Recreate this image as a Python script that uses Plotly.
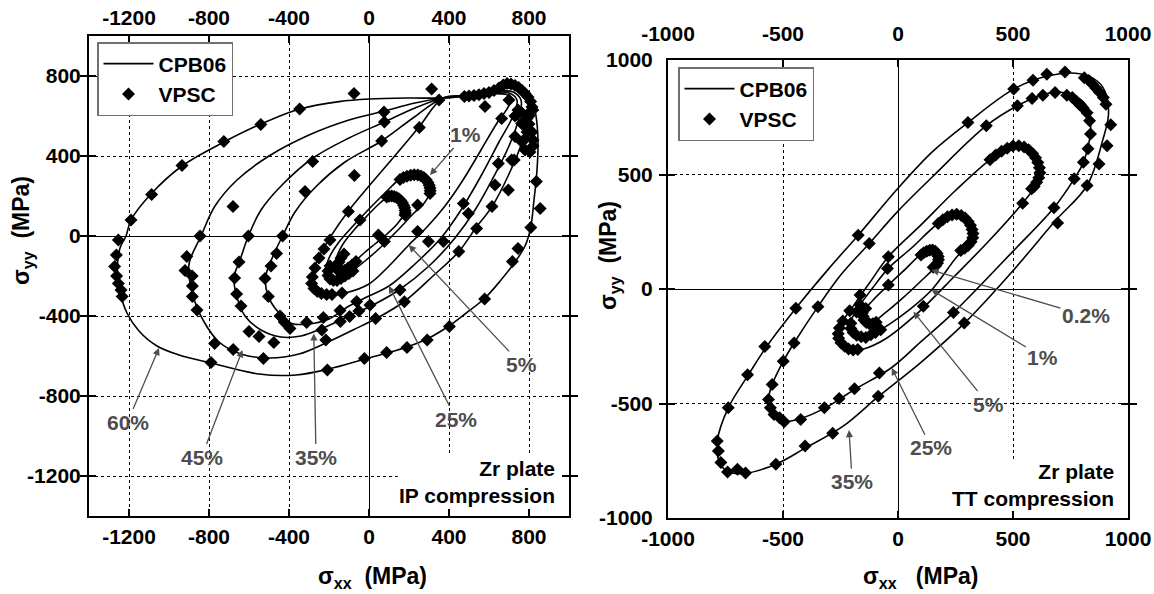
import plotly.graph_objects as go

# ---------------- axes ----------------
ip_ticks = [-1200, -800, -400, 0, 400, 800]
ip_range = [-1400, 1000]
tt_ticks = [-1000, -500, 0, 500, 1000]
tt_range = [-1000, 1000]

# ---------------- IP compression (left): CPB06 curves, (sxx, syy) MPa ----------------
ip_cpb_02 = [(182,125),(172,172),(140,196),(100,198),(55,165),(-10,100),(-75,30),(-130,-40),(-163,-110),
             (-168,-160),(-140,-180),(-95,-150),(-30,-90),(30,-40),(90,10),(145,65),(182,125)]
ip_cpb_1 = [(305,225),(292,275),(250,303),(200,302),(155,285),(80,215),(0,135),(-80,50),(-150,-30),(-200,-110),
            (-218,-180),(-195,-222),(-150,-220),(-90,-180),(-20,-125),(60,-55),(140,25),(220,110),(280,170),(305,225)]
ip_cpb_5 = [(370,690),(250,545),(120,390),(0,250),(-103,125),(-190,0),(-255,-115),(-290,-220),(-270,-275),
            (-215,-295),(-120,-285),(0,-240),(100,-150),(199,-45),(290,45),(380,150),(470,280),(560,430),
            (640,565),(700,655),(700,702),(620,712),(480,700),(370,690)]
ip_cpb_25 = [(370,690),(220,590),(63,475),(-120,370),(-262,250),(-370,120),(-432,0),(-480,-100),(-518,-210),
             (-503,-303),(-450,-385),(-387,-437),(-300,-440),(-200,-415),(-100,-350),(0,-300),(100,-250),
             (230,-140),(360,-10),(460,130),(560,300),(650,470),(720,600),(740,680),(700,715),(600,718),
             (480,702),(370,690)]
ip_cpb_35 = [(370,690),(230,640),(77,570),(-100,490),(-280,390),(-430,260),(-540,130),(-603,0),(-645,-120),
             (-675,-205),(-665,-287),(-620,-400),(-540,-470),(-440,-505),(-340,-500),(-230,-460),(-100,-400),
             (20,-345),(150,-270),(300,-150),(430,-10),(530,130),(620,290),(700,450),(750,590),(760,680),
             (720,720),(620,725),(490,705),(370,690)]
ip_cpb_45 = [(370,690),(230,665),(77,625),(-100,580),(-300,505),(-500,400),(-660,280),(-770,150),(-840,0),
             (-898,-130),(-900,-200),(-880,-300),(-830,-420),(-750,-530),(-640,-590),(-500,-610),(-350,-590),
             (-216,-535),(-80,-470),(50,-405),(180,-325),(320,-200),(449,-78),(532,38),(615,147),(700,310),
             (765,470),(795,610),(790,690),(745,730),(650,740),(530,715),(430,695),(370,690)]
ip_cpb_60 = [(370,690),(480,700),(580,725),(680,750),(760,735),(810,690),(835,600),(845,470),(840,330),
             (825,180),(808,40),(780,-50),(730,-130),(660,-220),(580,-310),(480,-390),(400,-450),(290,-515),
             (190,-555),(90,-585),(-20,-615),(-200,-665),(-365,-695),(-550,-690),(-790,-635),(-950,-595),
             (-1060,-550),(-1150,-475),(-1210,-385),(-1245,-280),(-1258,-170),(-1245,-60),(-1215,0),
             (-1190,80),(-1090,210),(-935,350),(-725,470),(-540,560),(-345,635),(-150,672),(0,685),
             (200,690),(370,690)]

# ---------------- IP compression (left): VPSC points ----------------
ip_vpsc_02 = [(88,195),(100,199),(113,200),(126,198),(138,193),(149,186),(159,177),(167,166),(173,154),
              (178,141),(181,128),(182,115),(180,105),(-150,-130),(-160,-145),(-165,-160),(-155,-172),
              (-140,-178),(-122,-172),(-105,-160),(-85,-145),(-65,-128),(-140,-110),(-125,-90),(47,5)]
ip_vpsc_1 = [(155,282),(172,292),(190,299),(208,304),(226,306),(244,305),(260,300),(274,292),(286,281),
             (295,268),(301,254),(305,240),(306,226),(305,213),(243,155),(77,-28),(-45,80),(-195,-150),
             (-205,-175),(-205,-198),(-195,-215),(-178,-222),(-160,-222),(-140,-212),(-120,-200),
             (-100,-188),(-80,-175)]
ip_vpsc_5 = [(-103,122),(-195,-20),(-225,-65),(-250,-110),(-270,-160),(-283,-205),(-287,-237),(-275,-262),
             (-258,-278),(-238,-288),(-212,-292),(-185,-292),(-135,-285),(243,22),(580,647),(663,588)]
ip_vpsc_25 = [(-432,0),(-462,-87),(-490,-150),(-520,-212),(-503,-303),(-445,-400),(-424,-430),(-312,-432),
              (-228,-408),(-145,-372),(-62,-328),(297,-28),(472,163),(647,363),(730,600),(63,475),
              (-320,222),(-73,302),(252,542)]
ip_vpsc_35 = [(-603,0),(-650,-130),(-672,-210),(-662,-290),(-640,-350),(-600,-478),(-550,-503),(-476,-533),
              (-395,-462),(-236,-470),(-143,-428),(-97,-403),(-51,-375),(5,-345),(155,-270),(372,-28),
              (497,113),(630,255),(713,380),(730,497),(760,620),(77,570),(-282,372)]
ip_vpsc_45 = [(-845,0),(-911,-103),(-920,-172),(-884,-200),(-883,-250),(-883,-303),(-860,-370),(-772,-537),
              (-679,-567),(-528,-612),(-216,-520),(33,-412),(177,-329),(449,-78),(538,38),(615,147),
              (697,230),(726,380),(782,488),(800,600),(-680,147),(75,620)]
ip_vpsc_60 = [(-1190,80),(-1087,208),(-935,352),(-726,472),(-541,558),(-347,635),(-75,713),(313,735),
              (350,680),(-1253,-20),(-1263,-95),(-1272,-153),(-1262,-200),(-1253,-237),(-1240,-270),
              (-1234,-303),(-790,-632),(-208,-670),(-23,-612),(88,-582),(190,-558),(291,-520),(402,-453),
              (578,-315),(717,-128),(745,-62),(809,42),(856,138),(837,272),(820,450),(819,630)]
ip_vpsc_top = [(477,697),(500,700),(525,702),(550,706),(575,712),(600,718),(625,728),(650,740),(671,755),
               (690,762),(710,760),(730,752),(748,742),(765,728),(780,712),(795,695),(808,672),(815,645),
               (805,620),(790,588),(775,555),(800,560),(815,520),(790,520),(765,470),(780,430),(805,420),
               (820,480),(745,630),(763,563),(700,680)]

# ---------------- TT compression (right): CPB06 curves ----------------
tt_cpb_02 = [(153,170),(172,152),(176,125),(160,95),(100,35),(20,-40),(-60,-108),(-120,-152),(-152,-148),
             (-158,-110),(-110,-50),(-42,17),(30,85),(100,150),(153,170)]
tt_cpb_1 = [(255,326),(300,305),(325,262),(325,215),(300,180),(260,145),(146,-4),(50,-90),(-50,-162),
            (-140,-212),(-195,-202),(-212,-160),(-175,-85),(-110,5),(-42,90),(60,180),(175,286),(255,326)]
tt_cpb_5 = [(501,626),(565,606),(605,560),(617,505),(598,450),(542,375),(400,215),(250,60),(80,-110),
            (-50,-215),(-150,-262),(-220,-268),(-262,-228),(-258,-170),(-205,-90),(-125,25),(-42,141),
            (100,280),(250,430),(400,564),(501,626)]
tt_cpb_25 = [(700,860),(790,830),(830,780),(837,690),(806,553),(766,481),(678,355),(500,165),(241,-103),
             (100,-230),(-30,-345),(-189,-439),(-316,-519),(-428,-567),(-499,-578),(-545,-548),(-563,-483),
             (-547,-417),(-499,-316),(-452,-236),(-348,-77),(-250,60),(-125,199),(0,340),(150,490),
             (384,713),(519,800),(620,845),(700,860)]
tt_cpb_35 = [(790,940),(870,905),(905,850),(915,760),(890,650),(822,452),(686,300),(500,80),(288,-150),
             (100,-320),(-86,-470),(-240,-600),(-404,-695),(-531,-765),(-666,-805),(-745,-795),(-782,-740),
             (-786,-664),(-738,-519),(-650,-374),(-571,-251),(-444,-84),(-300,90),(-173,235),(0,440),
             (150,600),(304,727),(503,873),(650,930),(790,940)]

# ---------------- TT compression (right): VPSC points ----------------
tt_vpsc_02 = [(100,148),(112,158),(125,165),(138,169),(150,170),(162,165),(170,155),(175,142),(176,128),
              (172,114),(164,102),(153,95),(-151,-120),(-148,-135),(-138,-146),(-125,-152),(-110,-152),
              (-95,-145),(-155,-105),(-140,-85),(-42,17)]
tt_vpsc_1 = [(175,286),(195,302),(215,315),(235,323),(255,326),(275,321),(292,310),(305,295),(315,278),
             (322,260),(326,242),(325,224),(318,206),(305,190),(290,178),(273,168),(-46,90),(-205,-150),
             (-205,-172),(-195,-190),(-180,-202),(-160,-208),(-140,-212),(-118,-200),(-98,-190),(-75,-178),
             (-180,-100),(-165,-70)]
tt_vpsc_5 = [(400,564),(425,585),(450,602),(475,615),(500,624),(525,626),(548,620),(568,608),(585,592),
             (598,573),(608,552),(615,530),(617,508),(612,486),(603,466),(592,448),(581,438),(542,375),
             (-42,141),(-165,-26),(-210,-95),(-240,-140),(-255,-170),(-260,-195),(-258,-215),(-248,-235),
             (-232,-250),(-215,-262),(-195,-266),(-175,-264),(110,-75)]
tt_vpsc_25 = [(384,713),(519,800),(583,832),(630,846),(683,858),(734,846),(758,836),(775,820),(790,805),
              (805,790),(822,770),(833,735),(837,677),(826,612),(806,553),(766,481),(678,355),(-125,199),
              (-348,-77),(-452,-236),(-499,-316),(-547,-417),(-563,-483),(-555,-519),(-539,-548),
              (-515,-562),(-495,-580),(-423,-570),(-320,-519),(-256,-478),(-189,-436),(-81,-367),(241,-103)]
tt_vpsc_35 = [(503,873),(587,912),(647,938),(726,948),(810,923),(830,910),(845,895),(860,878),(875,860),
              (893,836),(904,807),(925,717),(909,626),(874,546),(822,452),(694,288),(304,727),(-173,235),
              (-444,-84),(-579,-251),(-654,-374),(-738,-519),(-786,-664),(-781,-707),(-770,-758),
              (-741,-799),(-698,-787),(-663,-804),(-531,-765),(-404,-686),(-284,-630),(-86,-468),(288,-149)]

# ---------------- labels: (text, label x, label y, arrow head x, arrow head y) ----------------
ip_labels = [("1%", 480, 505, 305, 305), ("5%", 762, -642, 199, -45), ("25%", 435, -915, 100, -250),
             ("35%", -265, -1105, -276, -487), ("45%", -837, -1105, -633, -570),
             ("60%", -1207, -930, -1050, -560)]
tt_labels = [("0.2%", 817, -117, 146, 83), ("1%", 630, -298, 146, -4), ("5%", 392, -503, 67, -99),
             ("25%", 145, -693, -27, -345), ("35%", -199, -841, -213, -616)]

ip_curves = [ip_cpb_02, ip_cpb_1, ip_cpb_5, ip_cpb_25, ip_cpb_35, ip_cpb_45, ip_cpb_60]
ip_points = [ip_vpsc_02, ip_vpsc_1, ip_vpsc_5, ip_vpsc_25, ip_vpsc_35, ip_vpsc_45, ip_vpsc_60, ip_vpsc_top]
tt_curves = [tt_cpb_02, tt_cpb_1, tt_cpb_5, tt_cpb_25, tt_cpb_35]
tt_points = [tt_vpsc_02, tt_vpsc_1, tt_vpsc_5, tt_vpsc_25, tt_vpsc_35]

FONT = "Liberation Sans, Arial, sans-serif"
GRAY = "#4d4d4d"
FS = 21
W, H = 1154, 594

fig = go.Figure()


def add_panel(curves, points, xa, ya, legend):
    for i, c in enumerate(curves):
        fig.add_trace(go.Scatter(
            x=[p[0] for p in c], y=[p[1] for p in c], mode="lines",
            line=dict(color="black", width=1.6, shape="spline", smoothing=1.0),
            name="CPB06", legend=legend, legendgroup=legend + "c",
            showlegend=(i == 0), xaxis=xa, yaxis=ya, hoverinfo="skip"))
    px, py = [], []
    for s in points:
        px += [p[0] for p in s]
        py += [p[1] for p in s]
    fig.add_trace(go.Scatter(
        x=px, y=py, mode="markers", name="VPSC", legend=legend,
        marker=dict(symbol="diamond", size=10, color="black", line=dict(width=0)),
        xaxis=xa, yaxis=ya, hoverinfo="skip"))


add_panel(ip_curves, ip_points, "x", "y", "legend")
add_panel(tt_curves, tt_points, "x2", "y2", "legend2")
# dummy traces so that the top tick-label axes are drawn
fig.add_trace(go.Scatter(x=[None], y=[None], xaxis="x3", yaxis="y", showlegend=False, hoverinfo="skip"))
fig.add_trace(go.Scatter(x=[None], y=[None], xaxis="x4", yaxis="y2", showlegend=False, hoverinfo="skip"))

tickfont = dict(family=FONT, size=FS, color="black", weight="bold")


def main_axis(rng, ticks, domain, anchor, standoff):
    return dict(domain=domain, range=rng, autorange=False, anchor=anchor, tickmode="array",
                tickvals=ticks, ticktext=[str(t) for t in ticks], ticks="inside", ticklen=7,
                tickwidth=2, tickcolor="black", mirror="allticks", showline=True, linewidth=2,
                linecolor="black", showgrid=True, gridcolor="black", gridwidth=1, griddash="dot",
                zeroline=True, zerolinecolor="black", zerolinewidth=1.3, tickfont=tickfont,
                ticklabelstandoff=standoff, fixedrange=True, automargin=False)


def top_axis(rng, ticks, over, anchor, standoff):
    return dict(overlaying=over, side="top", anchor=anchor, range=rng, autorange=False,
                tickmode="array", tickvals=ticks, ticktext=[str(t) for t in ticks], ticks="",
                showgrid=False, zeroline=False, showline=False, tickfont=tickfont,
                ticklabelstandoff=standoff, fixedrange=True, automargin=False)


ip_xdom = [89 / W, 569 / W]
ip_ydom = [1 - 516 / H, 1 - 36 / H]
tt_xdom = [668 / W, 1128 / W]
tt_ydom = [1 - 518 / H, 1 - 60 / H]

legend_style = dict(xanchor="left", yanchor="top", bgcolor="white", bordercolor="#707070",
                    borderwidth=1.5, font=dict(family=FONT, size=FS, color="black", weight="bold"),
                    itemwidth=50, tracegroupgap=0, traceorder="normal")

annotations = []


def add_labels(labels, xr, yr):
    for t, lx, ly, hx, hy in labels:
        annotations.append(dict(
            x=hx, y=hy, ax=lx, ay=ly, xref=xr, yref=yr, axref=xr, ayref=yr, text=t,
            showarrow=True, arrowhead=2, arrowsize=1.1, arrowwidth=1.3, arrowcolor=GRAY,
            standoff=0, font=dict(family=FONT, size=FS, color=GRAY, weight="bold")))


add_labels(ip_labels, "x", "y")
add_labels(tt_labels, "x2", "y2")

text_font = dict(family=FONT, size=FS, color="black", weight="bold")
title_font = dict(family=FONT, size=23, color="black", weight="bold")
annotations += [
    dict(x=939, y=-1228, xref="x", yref="y", text="Zr plate<br>IP compression", showarrow=False,
         xanchor="right", yanchor="middle", align="right", font=text_font),
    dict(x=948, y=-856, xref="x2", yref="y2", text="Zr plate<br>TT compression", showarrow=False,
         xanchor="right", yanchor="middle", align="right", font=text_font),
    dict(x=372 / W, y=1 - 577 / H, xref="paper", yref="paper",
         text="σ<sub>xx</sub>&nbsp;&nbsp;(MPa)", showarrow=False, xanchor="center", yanchor="middle",
         font=title_font),
    dict(x=920 / W, y=1 - 577 / H, xref="paper", yref="paper",
         text="σ<sub>xx</sub>&nbsp;&nbsp;&nbsp;(MPa)", showarrow=False, xanchor="center", yanchor="middle",
         font=title_font),
    dict(x=23 / W, y=1 - 231 / H, xref="paper", yref="paper",
         text="σ<sub>yy</sub>&nbsp;&nbsp;(MPa)", showarrow=False, xanchor="center", yanchor="middle",
         textangle=-90, font=title_font),
    dict(x=609 / W, y=1 - 256 / H, xref="paper", yref="paper",
         text="σ<sub>yy</sub>&nbsp;&nbsp;(MPa)", showarrow=False, xanchor="center", yanchor="middle",
         textangle=-90, font=title_font),
]

shapes = [
    dict(type="rect", xref="x", yref="y", x0=144, x1=1000, y0=-1400, y1=-1095,
         fillcolor="white", line=dict(width=0), layer="between"),
    dict(type="rect", xref="x2", yref="y2", x0=200, x1=1000, y0=-1000, y1=-750,
         fillcolor="white", line=dict(width=0), layer="between"),
]

fig.update_layout(
    width=W, height=H, autosize=False, margin=dict(l=0, r=0, t=0, b=0, autoexpand=False),
    paper_bgcolor="white", plot_bgcolor="white", showlegend=True,
    xaxis=main_axis(ip_range, ip_ticks, ip_xdom, "y", 1),
    yaxis=main_axis(ip_range, ip_ticks, ip_ydom, "x", 2),
    xaxis2=main_axis(tt_range, tt_ticks, tt_xdom, "y2", 1),
    yaxis2=main_axis(tt_range, tt_ticks, tt_ydom, "x2", 9),
    xaxis3=top_axis(ip_range, ip_ticks, "x", "y", 6),
    xaxis4=top_axis(tt_range, tt_ticks, "x2", "y2", 14),
    legend=dict(x=97 / W, y=1 - 42 / H, **legend_style),
    legend2=dict(x=678 / W, y=1 - 67 / H, **legend_style),
    annotations=annotations, shapes=shapes,
)

fig.write_html("out.html", config={"displayModeBar": False},
               post_script="document.body.style.margin='0';document.body.style.overflow='hidden';")
